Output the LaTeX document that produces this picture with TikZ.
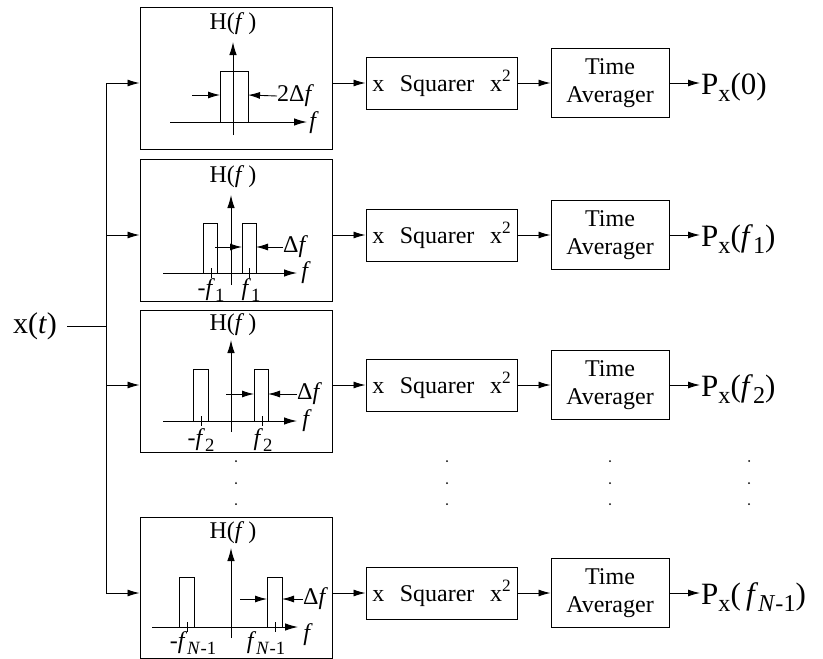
\documentclass[tikz,border=0pt]{standalone}
\usepackage{fontspec}
\setmainfont{Liberation Serif}
\usetikzlibrary{arrows.meta, positioning}
\newcommand{\lowsub}[1]{\raisebox{-0.22em}{\scalebox{0.78}{#1}}}
\newcommand{\highsup}[1]{\raisebox{0.42em}{\scalebox{0.72}{#1}}}

\begin{document}
\begin{tikzpicture}[
  x=1pt, y=-1pt,
  filt/.style={rectangle, draw, line width=1pt, minimum width=192pt,
               minimum height=142pt, inner sep=0pt},
  sqbox/.style={rectangle, draw, line width=1pt, minimum width=151pt,
                minimum height=52pt, inner sep=0pt, font=\fontsize{24}{28}\selectfont},
  avbox/.style={rectangle, draw, line width=1pt, minimum width=118pt,
                minimum height=69pt, inner sep=0pt, align=center,
                font=\fontsize{24}{28}\selectfont},
  outlab/.style={anchor=west, inner sep=1pt, font=\fontsize{31}{36}\selectfont},
  lab/.style={inner sep=0pt, font=\fontsize{24}{28}\selectfont},
  arr/.style={-{Latex[length=12pt, width=7pt]}, line width=0.9pt},
  axis/.style={-{Latex[length=13pt, width=7.5pt]}, line width=1pt},
  tick/.style={line width=0.9pt},
  dot/.style={circle, fill, inner sep=0pt, minimum size=2pt}
]
\useasboundingbox (0,0) rectangle (823,659);

% input and bus
\node[inner sep=0pt, inner xsep=10pt, font=\fontsize{30}{36}\selectfont] (xt) at (35,326) {x(\textit{t})};
\coordinate (busin) at (106,326);
\coordinate (b1) at (106,83);
\coordinate (b2) at (106,235);
\coordinate (b3) at (106,385);
\coordinate (b4) at (106,593);
\draw[line width=0.9pt] (xt.east) -- (busin);
\draw[line width=0.9pt] (b1) -- (b4);

% filter boxes
\node[filt] (filt1) at (236,78) {};
\node[filt] (filt2) at (236,230) {};
\node[filt] (filt3) at (236,381) {};
\node[filt, minimum height=141pt] (filt4) at (236,587.5) {};

% squarers, averagers, outputs
\node[sqbox] (sq1) at (441.5,83) {x\hspace{0.65em}Squarer\hspace{0.65em}x\highsup{2}};
\node[sqbox] (sq2) at (441.5,235) {x\hspace{0.65em}Squarer\hspace{0.65em}x\highsup{2}};
\node[sqbox] (sq3) at (441.5,385) {x\hspace{0.65em}Squarer\hspace{0.65em}x\highsup{2}};
\node[sqbox] (sq4) at (441.5,593) {x\hspace{0.65em}Squarer\hspace{0.65em}x\highsup{2}};

\node[avbox] (av1) at (610,83) {Time\\Averager};
\node[avbox] (av2) at (610,235) {Time\\Averager};
\node[avbox] (av3) at (610,385) {Time\\Averager};
\node[avbox] (av4) at (610,593) {Time\\Averager};

\node[outlab] (out1) at (700,87) {P\lowsub{x}(0)};
\node[outlab] (out2) at (700,239) {P\lowsub{x}(\textit{f}\lowsub{1})};
\node[outlab] (out3) at (700,389) {P\lowsub{x}(\textit{f}\lowsub{2})};
\node[outlab] (out4) at (700,597) {P\lowsub{x}(\,\textit{f}\lowsub{\textit{N}-1})};

\draw[arr] (b1) -- (b1 -| filt1.west);
\draw[arr] (b2) -- (b2 -| filt2.west);
\draw[arr] (b3) -- (b3 -| filt3.west);
\draw[arr] (b4) -- (b4 -| filt4.west);

\draw[arr] (sq1 -| filt1.east) -- (sq1);
\draw[arr] (sq2 -| filt2.east) -- (sq2);
\draw[arr] (sq3 -| filt3.east) -- (sq3);
\draw[arr] (sq4 -| filt4.east) -- (sq4);

\draw[arr] (sq1) -- (av1);
\draw[arr] (sq2) -- (av2);
\draw[arr] (sq3) -- (av3);
\draw[arr] (sq4) -- (av4);

\draw[arr] (av1) -- (av1 -| out1.west);
\draw[arr] (av2) -- (av2 -| out2.west);
\draw[arr] (av3) -- (av3 -| out3.west);
\draw[arr] (av4) -- (av4 -| out4.west);

% filter 1: lowpass
\node[lab] (h1) at (233,24) {H(\textit{f}\,)};
\draw[axis] (233,135) -- (233,42);
\draw[axis] (170,122) -- (307,122);
\node[lab] (f1) at (314,123) {\textit{f}};
\draw[line width=1pt] (220,122) rectangle (248,71);
\node[lab, anchor=west] (df1) at (277,96) {2Δ\textit{f}};
\draw[arr] (192,95) -- (220,95);
\draw[arr] (df1.west) -- (248,95);

% filter 2: band at f1
\node[lab] (h2) at (233,177) {H(\textit{f}\,)};
\draw[axis] (231,285) -- (231,195);
\draw[axis] (163,273) -- (297,273);
\node[lab] (f2) at (306,273) {\textit{f}};
\draw[line width=1pt] (203,273) rectangle (217,223);
\draw[line width=1pt] (242,273) rectangle (256,223);
\draw[tick] (211,268) -- (211,278);
\draw[tick] (249,268) -- (249,278);
\node[lab] (m2) at (211,290) {-\textit{f}\lowsub{1}};
\node[lab] (p2) at (251,290) {\textit{f}\lowsub{1}};
\node[lab, anchor=west] (df2) at (283,247) {Δ\textit{f}};
\draw[arr] (215,247) -- (242,247);
\draw[arr] (df2.west) -- (256,247);

% filter 3: band at f2
\node[lab] (h3) at (233,325) {H(\textit{f}\,)};
\draw[axis] (231,432) -- (231,340);
\draw[axis] (163,421) -- (297,421);
\node[lab] (f3) at (307,421) {\textit{f}};
\draw[line width=1pt] (193,421) rectangle (208,369);
\draw[line width=1pt] (254,421) rectangle (268,369);
\draw[tick] (201,416) -- (201,426);
\draw[tick] (262,416) -- (262,426);
\node[lab] (m3) at (201,440) {-\textit{f}\lowsub{2}};
\node[lab] (p3) at (263,440) {\textit{f}\lowsub{2}};
\node[lab, anchor=west] (df3) at (297,394) {Δ\textit{f}};
\draw[arr] (226,394) -- (254,394);
\draw[arr] (df3.west) -- (268,394);

% filter 4: band at f_{N-1}
\node[lab] (h4) at (233,533) {H(\textit{f}\,)};
\draw[axis] (231,638) -- (231,548);
\draw[axis] (152,627) -- (298,627);
\node[lab] (f4) at (308,635) {\textit{f}};
\draw[line width=1pt] (179,627) rectangle (194,577);
\draw[line width=1pt] (267,627) rectangle (282,577);
\draw[tick] (187,622) -- (187,632);
\draw[tick] (275,622) -- (275,632);
\node[lab] (m4) at (193,643) {-\textit{f}\lowsub{\textit{N}-1}};
\node[lab] (p4) at (266,643) {\textit{f}\lowsub{\textit{N}-1}};
\node[lab, anchor=west] (df4) at (303,599) {Δ\textit{f}};
\draw[arr] (240,599) -- (267,599);
\draw[arr] (df4.west) -- (282,599);

% vertical dots
\foreach \cx in {236,447,610,749}
  \foreach \cy in {461,483,504}
    \node[dot] at (\cx,\cy) {};
\end{tikzpicture}
\end{document}
